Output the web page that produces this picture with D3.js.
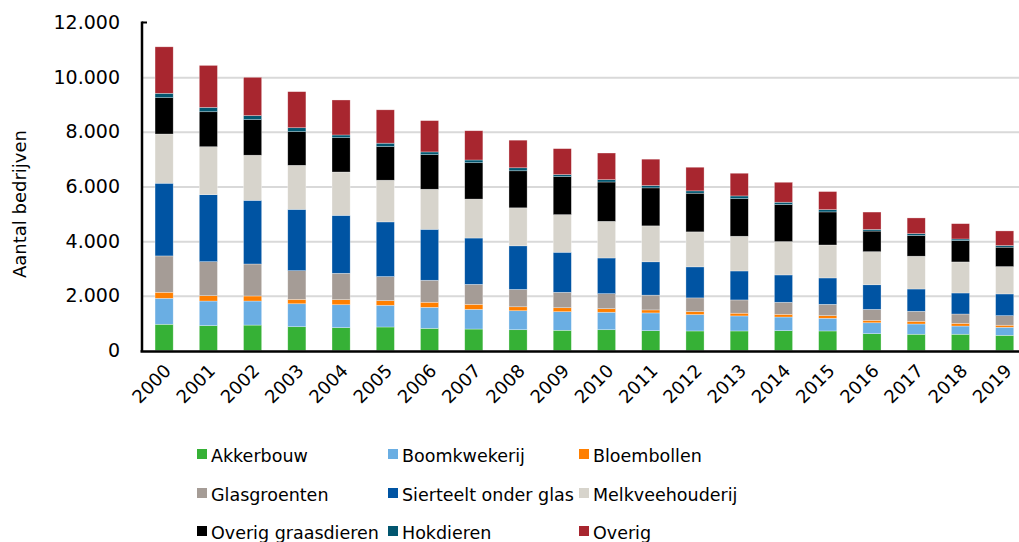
<!DOCTYPE html>
<html>
<head>
<meta charset="utf-8">
<script src="https://cdn.jsdelivr.net/npm/d3@7"></script>
<style>
  body { margin: 0; background: #fff; }
  svg { display: block; font-family: "DejaVu Sans", Verdana, sans-serif; }
</style>
</head>
<body>
<div id="chart"></div>
<script>
var width = 1019;
var height = 542;

var years = ["2000", "2001", "2002", "2003", "2004", "2005", "2006", "2007", "2008", "2009",
             "2010", "2011", "2012", "2013", "2014", "2015", "2016", "2017", "2018", "2019"];

var akkerbouw    = [960, 910, 930, 870, 835, 860, 810, 785, 760, 740, 760, 725, 715, 715, 725, 715, 615, 595, 595, 555];
var boomkwekerij = [950, 900, 880, 840, 840, 795, 770, 720, 695, 680, 640, 650, 600, 550, 500, 465, 400, 375, 300, 295];
var bloembollen  = [220, 195, 185, 160, 185, 170, 185, 185, 145, 145, 130, 110, 110, 100, 100, 95, 90, 100, 100, 75];
var glasgroenten = [1330, 1245, 1170, 1050, 965, 880, 805, 730, 635, 565, 550, 540, 500, 485, 440, 415, 400, 365, 340, 350];
var sierteelt    = [2660, 2450, 2330, 2245, 2120, 2000, 1865, 1695, 1595, 1465, 1305, 1220, 1135, 1060, 1000, 965, 900, 815, 770, 795];
var melkvee      = [1800, 1755, 1650, 1610, 1585, 1525, 1465, 1425, 1390, 1375, 1340, 1315, 1280, 1270, 1220, 1205, 1210, 1200, 1135, 1000];
var overigGraas  = [1330, 1280, 1300, 1230, 1255, 1230, 1265, 1330, 1355, 1390, 1440, 1390, 1415, 1375, 1355, 1210, 755, 755, 780, 710];
var hokdieren    = [160, 160, 150, 145, 100, 125, 100, 100, 110, 75, 85, 85, 85, 100, 85, 85, 60, 70, 60, 60];
var overig       = [1700, 1535, 1400, 1320, 1280, 1220, 1145, 1070, 1010, 950, 975, 965, 865, 830, 730, 660, 635, 575, 560, 535];

var seriesNames = ["Akkerbouw", "Boomkwekerij", "Bloembollen", "Glasgroenten", "Sierteelt onder glas",
                   "Melkveehouderij", "Overig graasdieren", "Hokdieren", "Overig"];
var seriesValues = [akkerbouw, boomkwekerij, bloembollen, glasgroenten, sierteelt, melkvee, overigGraas, hokdieren, overig];
var colors = ["#36b136", "#6aaee3", "#ff7f00", "#a59c96", "#0054a3", "#d7d4cc", "#000000", "#02566f", "#a8262f"];
var yTicks = [0, 2000, 4000, 6000, 8000, 10000, 12000];

// build table for d3.stack
var table = years.map(function(y, i) {
    var row = { year: y };
    seriesNames.forEach(function(n, j) { row[n] = seriesValues[j][i]; });
    return row;
});
var stacked = d3.stack().keys(seriesNames)(table);

var nl = d3.formatLocale({ decimal: ",", thousands: ".", grouping: [3], currency: ["€", ""] });
var fmt = nl.format(",");

var plotLeft = 142, plotTop = 22.5, plotBottom = 350.5;
var bandW = 44.24;

var x = d3.scaleBand()
    .domain(years)
    .range([plotLeft, plotLeft + bandW * years.length])
    .paddingInner(0.59)
    .paddingOuter(0.295);
var y = d3.scaleLinear()
    .domain([0, 12000])
    .range([plotBottom, plotTop]);

var svg = d3.select("#chart")
    .append("svg")
    .attr("width", width)
    .attr("height", height);

// gridlines
svg.append("g")
    .attr("class", "grid")
    .attr("transform", "translate(" + plotLeft + ",0)")
    .call(d3.axisLeft(y).tickValues([2000, 4000, 6000, 8000, 10000]).tickSize(-(width - plotLeft)).tickFormat(""))
    .call(function(g) {
        g.select(".domain").remove();
        g.selectAll("line").attr("stroke", "#d9d9d9").attr("stroke-width", 2);
    });

// bars
svg.append("g")
    .selectAll("g")
    .data(stacked)
    .enter()
    .append("g")
    .attr("fill", function(d, i) { return colors[i]; })
    .selectAll("rect")
    .data(function(d) { return d; })
    .enter()
    .append("rect")
    .attr("x", function(d) { return x(d.data.year); })
    .attr("y", function(d) { return y(d[1]); })
    .attr("width", x.bandwidth())
    .attr("height", function(d) { return y(d[0]) - y(d[1]); })
    .attr("stroke", "#ffffff")
    .attr("stroke-opacity", 0.5)
    .attr("stroke-width", 0.6);

// y axis
var yAxis = svg.append("g")
    .attr("transform", "translate(" + plotLeft + ",0)")
    .call(d3.axisLeft(y).tickValues(yTicks).tickSize(0).tickPadding(22).tickFormat(fmt));
yAxis.select(".domain").remove();
yAxis.selectAll("text")
    .attr("font-size", 19)
    .attr("fill", "#000")
    .attr("font-family", "DejaVu Sans, Verdana, sans-serif");

svg.append("line")
    .attr("x1", plotLeft).attr("x2", plotLeft)
    .attr("y1", plotTop - 1).attr("y2", plotBottom + 1)
    .attr("stroke", "#000").attr("stroke-width", 2.5);
svg.append("line")
    .attr("x1", plotLeft).attr("x2", plotLeft + 5)
    .attr("y1", plotTop).attr("y2", plotTop)
    .attr("stroke", "#000").attr("stroke-width", 2);

// x axis
var xAxis = svg.append("g")
    .attr("transform", "translate(0," + (plotBottom + 0.5) + ")")
    .call(d3.axisBottom(x).tickSize(0).tickPadding(0));
xAxis.select(".domain").remove();
xAxis.selectAll("text")
    .attr("font-size", 18)
    .attr("fill", "#000")
    .attr("font-family", "DejaVu Sans, Verdana, sans-serif")
    .attr("text-anchor", "end")
    .attr("dy", 0)
    .attr("transform", "translate(" + (x.bandwidth() / 2 - 1) + ",21) rotate(-45)");

svg.append("line")
    .attr("x1", plotLeft - 1.5).attr("x2", width)
    .attr("y1", plotBottom + 1).attr("y2", plotBottom + 1)
    .attr("stroke", "#000").attr("stroke-width", 2.6);

// y axis title
svg.append("text")
    .attr("transform", "translate(26," + 204 + ") rotate(-90)")
    .attr("text-anchor", "middle")
    .attr("font-size", 18)
    .text("Aantal bedrijven");

// legend
var legendCols = [197, 388, 579];
var legendRows = [462, 501, 539];
var legend = svg.append("g")
    .selectAll("g")
    .data(seriesNames)
    .enter()
    .append("g")
    .attr("transform", function(d, i) {
        return "translate(" + legendCols[i % 3] + "," + legendRows[Math.floor(i / 3)] + ")";
    });
legend.append("rect")
    .attr("x", 0)
    .attr("y", -13)
    .attr("width", 10)
    .attr("height", 10)
    .attr("fill", function(d, i) { return colors[i]; });
legend.append("text")
    .attr("x", 14)
    .attr("y", 0)
    .attr("font-size", 17.5)
    .text(function(d) { return d; });
</script>
</body>
</html>
